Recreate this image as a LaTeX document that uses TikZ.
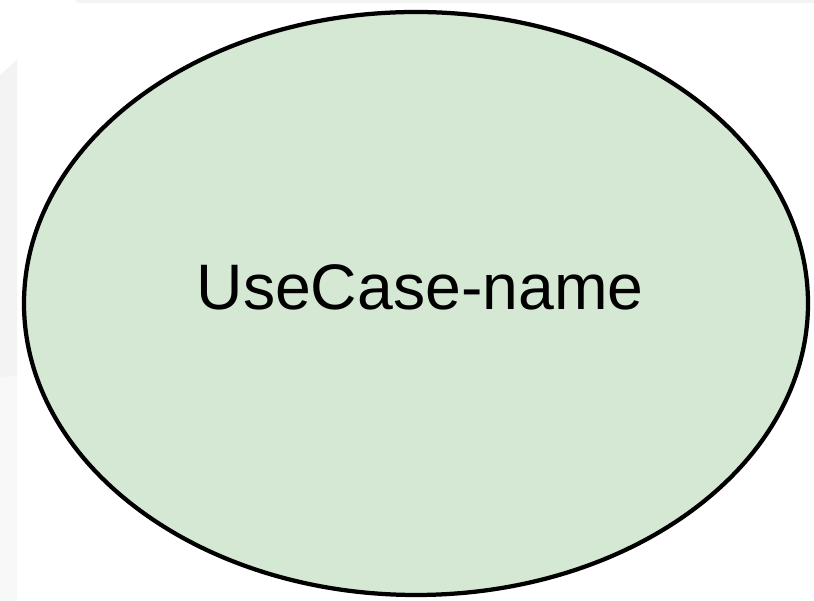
\documentclass[tikz,border=0pt]{standalone}
\usepackage{fontspec}
\setmainfont{Liberation Sans}
\usepackage{tikz}
\usetikzlibrary{shapes.geometric}
\definecolor{ucgreen}{HTML}{D5E8D4}
\definecolor{bggray}{HTML}{F3F3F3}
\definecolor{bglight}{HTML}{F8F8F8}
\tikzset{usecase/.style={ellipse, draw=black, fill=ucgreen, line width=0.085cm, minimum width=15.68cm, minimum height=11.66cm, inner sep=0pt}}

\begin{document}
\begin{tikzpicture}
		%%%%% START %%%%%
		\useasboundingbox (0, 0) rectangle (16.28, 12.02);
		\fill[white] (0, 0) rectangle (16.28, 12.02);
		
		\fill[bggray] (1.56, 11.96) -- (16.28, 11.96) -- (16.28, 12.02) -- (1.5, 12.02) -- cycle;
		\fill[bggray] (0, 10.52) -- (0.34, 10.82) -- (0.34, 4.52) -- (0, 4.46) -- cycle;
		\fill[bglight] (0, 4.46) -- (0.34, 4.52) -- (0.34, 0) -- (0, 0) -- cycle;
		
		\node[usecase] (uc) at (8.32, 5.95) {};
		\node[font=\fontsize{36.6}{43}\selectfont, inner sep=0pt, xshift=0.08cm, yshift=0.32cm] (ucname) at (uc.center) {UseCase-name};
		%%%%% END %%%%%
\end{tikzpicture}
\end{document}
